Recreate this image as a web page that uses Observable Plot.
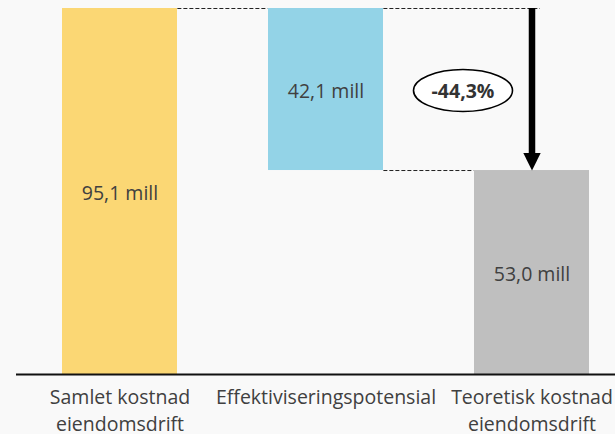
<!DOCTYPE html>
<html><head><meta charset="utf-8">
<script src="https://cdn.jsdelivr.net/npm/d3@7"></script>
<script src="https://cdn.jsdelivr.net/npm/@observablehq/plot@0.6"></script>
<style>
html,body{margin:0;padding:0;background:#f9f9f9;}
</style></head><body><div id="chart"></div>
<script>
const categories = ["Samlet kostnad\neiendomsdrift", "Effektiviseringspotensial", "Teoretisk kostnad\neiendomsdrift"];
const barStart = [0, 53.0, 0];
const barEnd = [95.1, 95.1, 53.0];
const barLabels = ["95,1 mill", "42,1 mill", "53,0 mill"];
const barColors = ["#fbd774", "#93d3e7", "#bfbfbf"];
const changeLabel = "-44,3%";

const bars = categories.map((c, i) => ({cat: c, y1: barStart[i], y2: barEnd[i], label: barLabels[i], color: barColors[i]}));

const xRange = [16.5, 634.5];
const padIn = 0.44, padOut = 0.22;
const step = (xRange[1] - xRange[0]) / (categories.length - padIn + 2 * padOut);
const bw = step * (1 - padIn);

// connectors between bars (from category, to category, level)
const connA = [
  {from: categories[0], to: categories[1], level: barEnd[0]},
  {from: categories[1], to: categories[2], level: barStart[1]}
];
const connB = [{from: categories[1], to: categories[2], level: barEnd[1]}];
const arrow = [{cat: categories[2], from: barEnd[0], to: barEnd[2], mid: (barEnd[0] + barEnd[2]) / 2, label: changeLabel}];

const headSymbol = {draw(ctx) { ctx.moveTo(-8.7, -17.5); ctx.lineTo(8.7, -17.5); ctx.lineTo(0, 0); ctx.closePath(); }};
const ellipseSymbol = {draw(ctx) {
  const rx = 49.5, ry = 21, k = 0.5523;
  ctx.moveTo(rx, 0);
  ctx.bezierCurveTo(rx, ry * k, rx * k, ry, 0, ry);
  ctx.bezierCurveTo(-rx * k, ry, -rx, ry * k, -rx, 0);
  ctx.bezierCurveTo(-rx, -ry * k, -rx * k, -ry, 0, -ry);
  ctx.bezierCurveTo(rx * k, -ry, rx, -ry * k, rx, 0);
  ctx.closePath();
}};

const plot = Plot.plot({
  width: 615,
  height: 434,
  marginTop: 8,
  marginBottom: 60,
  marginLeft: 16,
  marginRight: 0,
  style: {fontFamily: "'Open Sans', 'Noto Sans', sans-serif", fontSize: "19.5px", color: "#404040", background: "#f9f9f9", overflow: "visible"},
  x: {domain: categories, range: xRange, paddingInner: padIn, paddingOuter: padOut, align: 0.5},
  y: {domain: [0, 95.1], axis: null},
  color: {type: "identity"},
  marks: [
    Plot.barY(bars, {x: "cat", y1: "y1", y2: "y2", fill: "color"}),
    Plot.text(bars, {x: "cat", y: d => (d.y1 + d.y2) / 2, dy: 2.5, text: "label", fontSize: 19.5, fill: "#404040"}),
    Plot.ruleY(connA, {x1: "from", x2: "to", y: "level", insetLeft: bw, insetRight: bw, stroke: "#222", strokeDasharray: "4,2", strokeWidth: 1}),
    Plot.ruleY(connB, {x1: "from", x2: "to", y: "level", insetLeft: bw, insetRight: bw / 2 - 8.5, stroke: "#222", strokeDasharray: "4,2", strokeWidth: 1}),
    Plot.ruleX(arrow, {x: "cat", y1: "from", y2: "to", insetBottom: 14, stroke: "#000", strokeWidth: 6.5}),
    Plot.dot(arrow, {x: "cat", y: "to", symbol: headSymbol, fill: "#000", stroke: "none", r: 5}),
    Plot.dot(arrow, {x: "cat", y: "mid", dx: -69, dy: 1, symbol: ellipseSymbol, fill: "#fff", stroke: "#000", strokeWidth: 1.6, r: 5}),
    Plot.text(arrow, {x: "cat", y: "mid", dx: -69, dy: 2.5, text: "label", fontWeight: "bold", fontSize: 19.5, fill: "#333"}),
    Plot.ruleY([0], {stroke: "#111", strokeWidth: 2}),
    Plot.axisX({tickSize: 0, tickPadding: 10, lineHeight: 1.38, fontSize: 19.5, fill: "#404040", label: null})
  ]
});
document.getElementById("chart").appendChild(plot);
</script></body></html>
